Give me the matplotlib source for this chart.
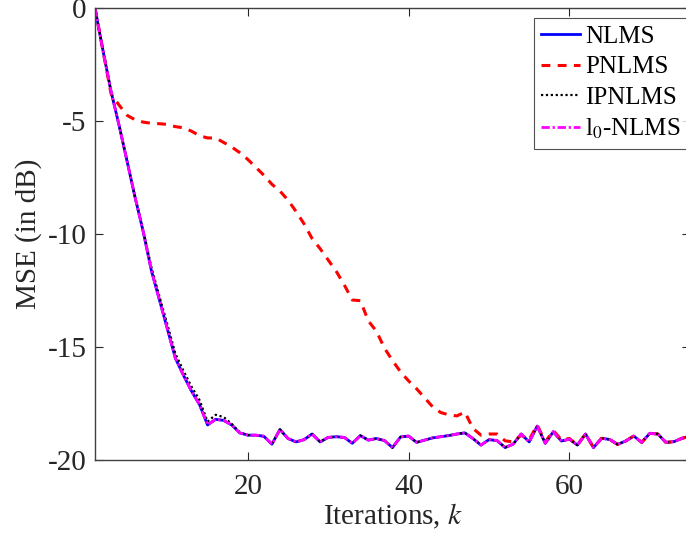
import matplotlib
matplotlib.use("Agg")
import matplotlib.pyplot as plt
import numpy as np

iterations = list(range(1, 76))

nlms = [0.0, -1.9, -3.7, -5.2, -6.8, -8.4, -9.9, -11.6, -12.9, -14.2,
        -15.5, -16.25, -16.95, -17.55, -18.45, -18.2, -18.25, -18.45, -18.8, -18.9,
        -18.9, -18.95, -19.3, -18.65, -19.05, -19.2, -19.1, -18.85, -19.2, -19.0,
        -18.97, -19.0, -19.26, -18.92, -19.12, -19.05, -19.14, -19.45, -18.98, -18.94,
        -19.22, -19.12, -19.02, -18.97, -18.92, -18.85, -18.8, -19.05, -19.34, -19.1,
        -19.14, -19.45, -19.3, -18.85, -19.2, -18.5, -19.26, -18.75, -19.16, -19.08,
        -19.34, -18.85, -19.45, -19.04, -19.09, -19.31, -19.16, -18.94, -19.22, -18.82,
        -18.85, -19.22, -19.19, -19.04, -18.95]

pnlms = [0.0, -1.9, -3.8, -4.3, -4.75, -4.95, -5.05, -5.1, -5.12, -5.15,
         -5.25, -5.3, -5.45, -5.65, -5.75, -5.75, -5.95, -6.15, -6.4, -6.7,
         -7.05, -7.4, -7.8, -8.1, -8.5, -9.0, -9.55, -10.2, -10.65, -11.15,
         -11.65, -12.25, -12.92, -12.95, -13.85, -14.3, -15.05, -15.6, -16.1, -16.5,
         -16.85, -17.25, -17.65, -17.9, -18.0, -18.05, -17.88, -18.6, -18.9, -18.85,
         -18.85, -19.15, -19.2, -18.9, -19.1, -18.45, -19.2, -18.7, -19.1, -19.05,
         -19.34, -18.85, -19.45, -19.04, -19.09, -19.31, -19.16, -18.94, -19.22, -18.82,
         -18.85, -19.22, -19.19, -19.04, -18.95]

ipnlms = [0.0, -1.9, -3.7, -5.2, -6.8, -8.4, -9.85, -11.45, -12.75, -14.0,
          -15.3, -16.05, -16.75, -17.35, -18.3, -18.0, -18.1, -18.4, -18.78, -18.9,
          -18.9, -18.95, -19.3, -18.65, -19.05, -19.2, -19.1, -18.85, -19.2, -19.0,
          -18.97, -19.0, -19.26, -18.92, -19.12, -19.05, -19.14, -19.45, -18.98, -18.94,
          -19.22, -19.12, -19.02, -18.97, -18.92, -18.85, -18.8, -19.05, -19.34, -19.1,
          -19.14, -19.45, -19.3, -18.85, -19.2, -18.5, -19.26, -18.75, -19.16, -19.08,
          -19.34, -18.85, -19.45, -19.04, -19.09, -19.31, -19.16, -18.94, -19.22, -18.82,
          -18.85, -19.22, -19.19, -19.04, -18.95]

l0_nlms = list(nlms)

labels = ["NLMS", "PNLMS", "IPNLMS", r"l$_0$-NLMS"]
xticks = [20, 40, 60]
yticks = [0, -5, -10, -15, -20]

plt.rcParams["font.family"] = ["Liberation Serif", "DejaVu Serif"]
plt.rcParams["mathtext.fontset"] = "stix"
plt.rcParams["axes.unicode_minus"] = False

fig = plt.figure(figsize=(6.86, 5.40), dpi=100)
ax = fig.add_axes([95/686, (540-460)/540, 595/686, 452/540])

ax.plot(iterations, nlms, color="#0000ff", lw=2.0, label=labels[0])
ax.plot(iterations, pnlms, color="#ff0000", lw=2.2, linestyle=(0, (2.9, 2.4)), label=labels[1])
ax.plot(iterations, ipnlms, color="black", lw=1.6, linestyle=(0, (1, 1.2)), label=labels[2])
ax.plot(iterations, l0_nlms, color="#ff00ff", lw=2.0, linestyle=(0, (3.0, 1.0, 0.8, 1.0)), label=labels[3])

ax.set_xlim(1, 75)
ax.set_ylim(-20, 0)
ax.set_xticks(xticks)
ax.set_yticks(yticks)
ax.tick_params(direction="in", length=6, width=0.8, colors="#262626",
               labelsize=21, top=True, right=True)
ax.tick_params(axis="x", pad=10)
ax.tick_params(axis="y", pad=6)
for s in ax.spines.values():
    s.set_color("#404040")
    s.set_linewidth(1.0)

ax.set_xlabel(r"Iterations, $k$", fontsize=21, color="#262626", labelpad=1)
ax.set_ylabel("MSE (in dB)", fontsize=21, color="#262626", labelpad=4)

leg = ax.legend(loc="upper right", bbox_to_anchor=(0.9966, 0.978), borderaxespad=0,
                fontsize=18, frameon=True, fancybox=False, handlelength=1.55,
                handletextpad=0.2, borderpad=0.3, labelspacing=0.32)
leg.get_frame().set_edgecolor("#262626")
leg.get_frame().set_linewidth(0.8)

fig.savefig("out.png", dpi=100)
